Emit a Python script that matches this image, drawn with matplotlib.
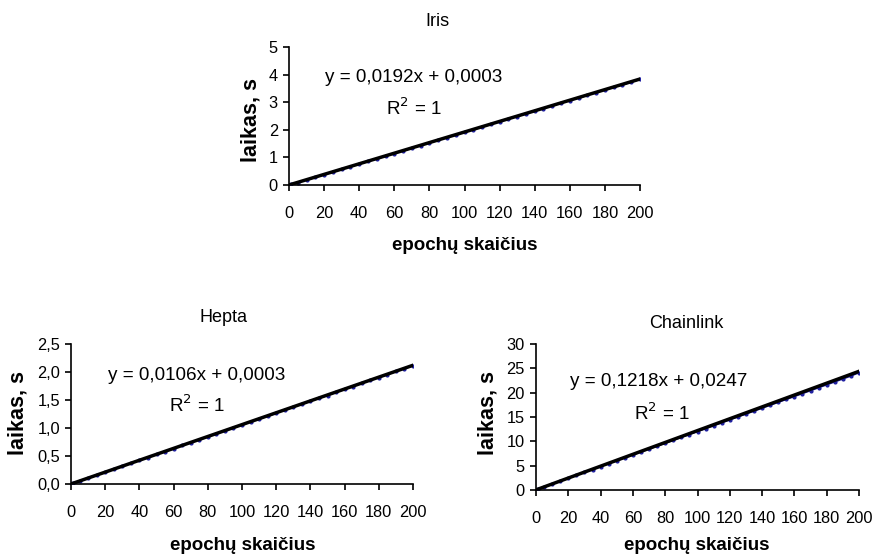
import matplotlib
matplotlib.use("Agg")
import matplotlib.pyplot as plt
import numpy as np

plt.rcParams['font.family'] = ['Liberation Sans', 'DejaVu Sans']

# ---------------- data ----------------
epochs = [1, 5, 10, 15, 20, 25, 30, 35, 40, 45, 50, 55, 60, 65, 70, 75, 80, 85, 90, 95,
          100, 105, 110, 115, 120, 125, 130, 135, 140, 145, 150, 155, 160, 165, 170, 175,
          180, 185, 190, 195, 200]

iris_time = [0.02, 0.09, 0.19, 0.28, 0.38, 0.47, 0.57, 0.66, 0.76, 0.86, 0.95, 1.05, 1.14,
             1.24, 1.34, 1.43, 1.53, 1.62, 1.72, 1.81, 1.91, 2.01, 2.10, 2.20, 2.29, 2.39,
             2.48, 2.58, 2.68, 2.77, 2.87, 2.96, 3.06, 3.15, 3.25, 3.35, 3.44, 3.54, 3.63,
             3.72, 3.83]
hepta_time = [0.01, 0.05, 0.11, 0.16, 0.21, 0.26, 0.32, 0.37, 0.42, 0.47, 0.53, 0.58, 0.63,
              0.69, 0.74, 0.79, 0.84, 0.90, 0.95, 1.00, 1.06, 1.11, 1.16, 1.21, 1.27, 1.32,
              1.37, 1.43, 1.48, 1.53, 1.58, 1.64, 1.69, 1.74, 1.80, 1.85, 1.90, 1.95, 2.01,
              2.06, 2.11]
chain_time = [0.14, 0.60, 1.20, 1.80, 2.40, 3.00, 3.60, 4.20, 4.80, 5.40, 6.00, 6.60, 7.20,
              7.80, 8.40, 9.00, 9.60, 10.20, 10.80, 11.40, 12.00, 12.60, 13.20, 13.80, 14.40,
              15.00, 15.60, 16.20, 16.80, 17.40, 18.00, 18.60, 19.20, 19.80, 20.40, 21.00,
              21.60, 22.20, 22.80, 23.40, 24.10]

titles = ["Iris", "Hepta", "Chainlink"]
slopes = [0.0192, 0.0106, 0.1218]
intercepts = [0.0003, 0.0003, 0.0247]
eq_texts = ["y = 0,0192x + 0,0003", "y = 0,0106x + 0,0003", "y = 0,1218x + 0,0247"]
r2_text = "R$^2$ = 1"
yticks_list = [[0, 1, 2, 3, 4, 5],
               [0.0, 0.5, 1.0, 1.5, 2.0, 2.5],
               [0, 5, 10, 15, 20, 25, 30]]
ytick_labels = [["0", "1", "2", "3", "4", "5"],
                ["0,0", "0,5", "1,0", "1,5", "2,0", "2,5"],
                ["0", "5", "10", "15", "20", "25", "30"]]
xticks = [0, 20, 40, 60, 80, 100, 120, 140, 160, 180, 200]
xlabel = "epochų skaičius"
ylabel = "laikas, s"

# ---------------- layout ----------------
W, H = 873, 554
fig = plt.figure(figsize=(W / 100, H / 100), dpi=100)

def ax_rect(l, t, r, b):
    return [l / W, 1 - b / H, (r - l) / W, (b - t) / H]

def ftext(x, y, s, **kw):
    fig.text(x / W, 1 - y / H, s, ha='center', va='center', **kw)

rects = [ax_rect(289, 47, 640, 185), ax_rect(71, 344, 413, 484), ax_rect(536, 344, 859, 490)]
title_pos = [(437, 22), (224, 317), (686, 323)]
eq_pos = [(414, 77), (197, 375), (659, 382)]
r2_pos = [(414, 108), (197, 405), (662, 413)]
ylab_pos = [(251, 120), (18, 413), (488, 413)]
xlab_pos = [(465, 246), (243, 545), (697, 545)]
series = [iris_time, hepta_time, chain_time]

fs_tick = 11.8
fs_title = 13.0
fs_eq = 13.6
fs_xlab = 13.5
fs_ylab = 15.5
for i in range(3):
    ax = fig.add_axes(rects[i])
    ax.plot(epochs, series[i], color='#1f1fa0', lw=1.0, marker='o', ms=2.0, zorder=2)
    xx = np.array([0, 200])
    ax.plot(xx, slopes[i] * xx + intercepts[i], color='black', lw=2.5, zorder=3)
    ax.set_xlim(0, 200)
    ax.set_ylim(yticks_list[i][0], yticks_list[i][-1])
    ax.set_xticks(xticks)
    ax.set_xticklabels([str(v) for v in xticks], fontsize=fs_tick)
    ax.set_yticks(yticks_list[i])
    ax.set_yticklabels(ytick_labels[i], fontsize=fs_tick)
    for s in ['top', 'right']:
        ax.spines[s].set_visible(False)
    for s in ['left', 'bottom']:
        ax.spines[s].set_linewidth(1.2)
    ax.tick_params(axis='both', direction='out', length=4, width=1.2, pad=4)
    ax.tick_params(axis='x', pad=11)
    ax.patch.set_visible(False)

    ftext(*title_pos[i], titles[i], fontsize=fs_title)
    ftext(*eq_pos[i], eq_texts[i], fontsize=fs_eq)
    ftext(*r2_pos[i], r2_text, fontsize=fs_eq)
    ftext(*ylab_pos[i], ylabel, fontsize=fs_ylab, fontweight='bold', rotation=90)
    ftext(*xlab_pos[i], xlabel, fontsize=fs_xlab, fontweight='bold')

fig.savefig("out.png", dpi=100)
